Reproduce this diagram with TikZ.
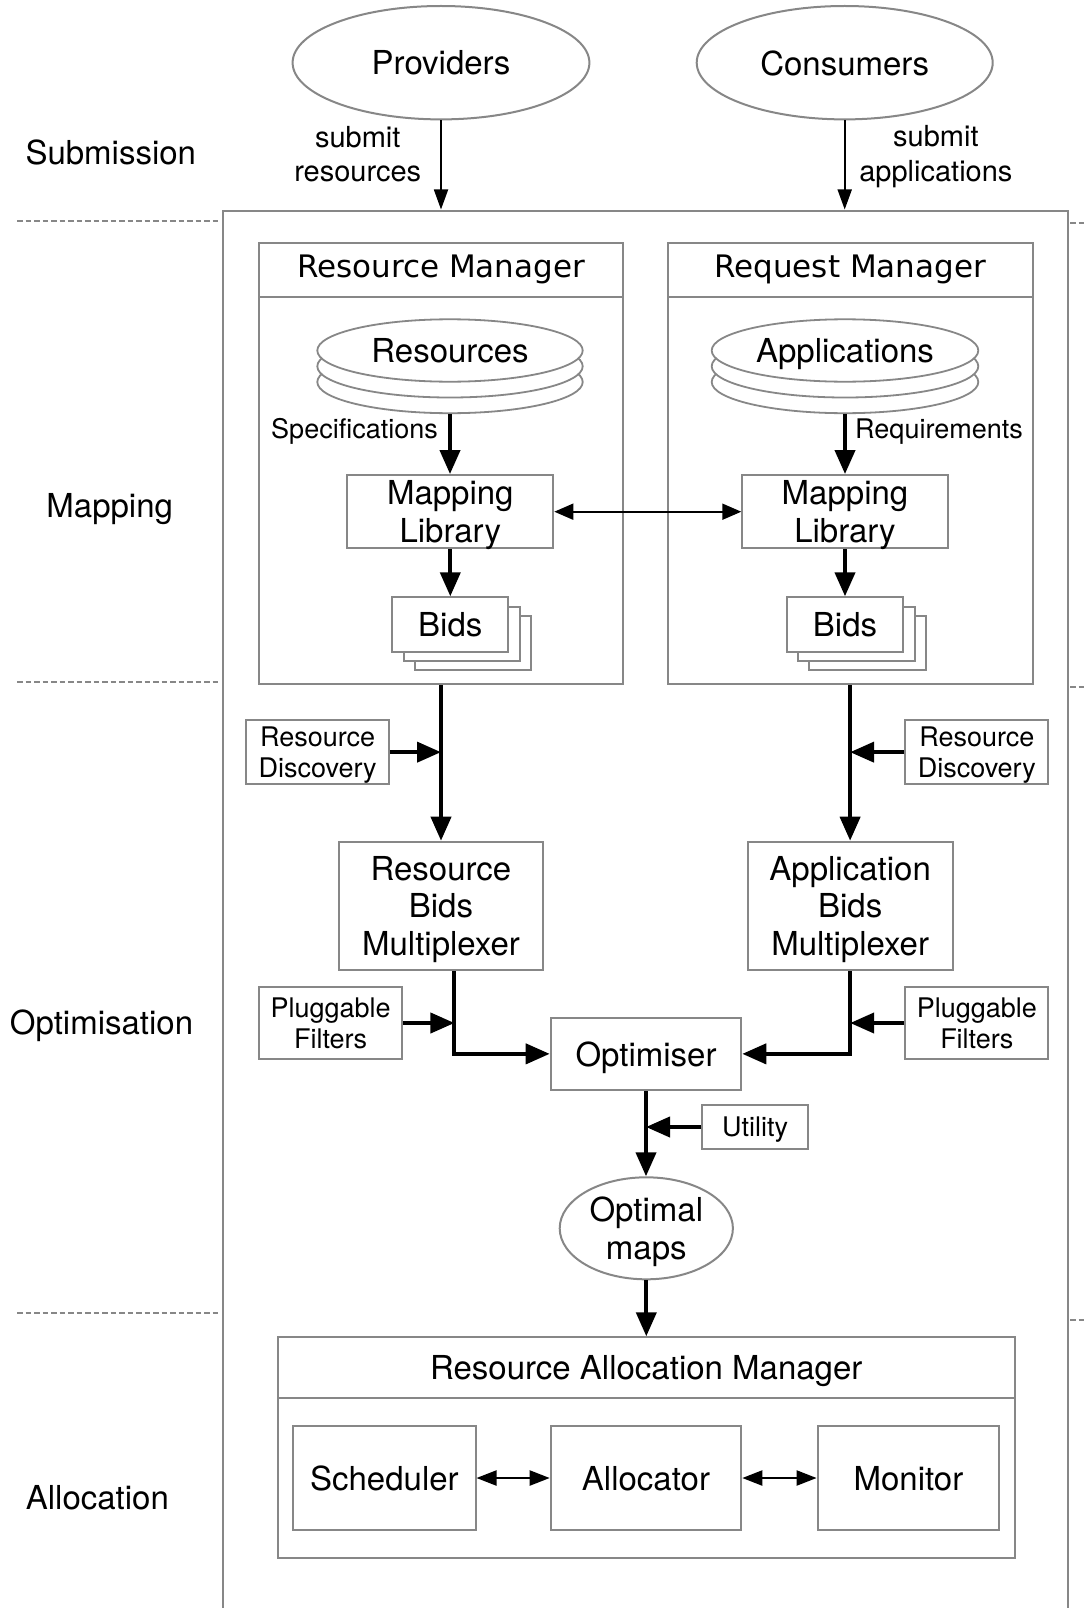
\documentclass[tikz,border=0pt]{standalone}
\usepackage{fontspec}
\setmainfont{TeX Gyre Heros}
\newfontfamily\hdrfont{DejaVu Sans}
\usetikzlibrary{arrows.meta,shapes.geometric}
\definecolor{bord}{RGB}{135,135,135}
\newcommand\mybigf{\fontsize{33}{37.7}\selectfont}
\newcommand\mysmf{\fontsize{27}{31.7}\selectfont}
\newcommand\mysubf{\fontsize{29}{34.3}\selectfont}
\newcommand\myhdrf{\hdrfont\fontsize{31}{36}\selectfont}
\begin{document}
\begin{tikzpicture}[x=1pt,y=-1pt,
 box/.style={draw=bord, line width=2pt, fill=white, inner sep=0pt, align=center, font=\mybigf, text depth=0pt},
 sbox/.style={box, font=\mysmf},
 oval/.style={ellipse, draw=bord, line width=2pt, fill=white, inner sep=0pt, align=center, font=\mybigf, text depth=0pt},
 db/.style={oval, line width=1.8pt},
 hdr/.style={box, font=\myhdrf, text depth=7.3pt},
 lbl/.style={inner sep=0pt, align=center, font=\mybigf},
 tk/.style={line width=4pt, -{Triangle[length=24pt,width=20pt]}},
 tn/.style={line width=1.8pt, -{Triangle[length=20pt,width=14pt]}},
 bi/.style={line width=1.8pt, {Triangle[length=19pt,width=16pt]}-{Triangle[length=19pt,width=16pt]}},
 bim/.style={line width=2.2pt, {Triangle[length=20pt,width=15pt]}-{Triangle[length=20pt,width=15pt]}},
 phase/.style={draw=bord, line width=2pt, dash pattern=on 5.5pt off 3pt}
]
\useasboundingbox (0,0) rectangle (1087,1608);
\clip (0,0) rectangle (1087,1608);

% phase labels
\node[lbl, anchor=base] (lsub) at (110.8,164.3) {Submission};
\node[lbl, anchor=base] (lmap) at (109.7,517.7) {Mapping};
\node[lbl, anchor=base] (lopt) at (101.5,1034.5) {Optimisation};
\node[lbl, anchor=base] (lall) at (97.4,1509.7) {Allocation};

% outer frame
\node[draw=bord, line width=2pt, inner sep=0pt, minimum width=845.5pt, minimum height=1450pt, anchor=north west] (outer) at (221.5,209.5) {};

% phase separators
\draw[phase] (17,220.5) -- (220.5,220.5);
\draw[phase] (17,681.5) -- (220.5,681.5);
\draw[phase] (17,1313) -- (220.5,1313);
\draw[phase] (1070,223) -- (1087,223);
\draw[phase] (1070,686.5) -- (1087,686.5);
\draw[phase] (1070,1319.5) -- (1087,1319.5);

% submission
\node[oval, minimum width=296.8pt, minimum height=113.4pt] (prov) at (441,62.7) {Providers};
\node[oval, minimum width=296pt, minimum height=113.4pt] (cons) at (844.7,62.7) {Consumers};
\node[lbl, font=\mysubf] (subr) at (357.7,154) {submit\\resources};
\node[lbl, font=\mysubf] (suba) at (935.9,156.5) {submit\\applications};
\draw[tn] (prov.south) -- (prov.south |- outer.north);
\draw[tn] (cons.south) -- (cons.south |- outer.north);

% managers
\node[box, minimum width=364pt, minimum height=440.7pt] (rm) at (441,463.65) {};
\node[hdr, minimum width=364pt, minimum height=53.4pt, anchor=north] (rmh) at (rm.north) {Resource Manager};
\node[box, minimum width=364.8pt, minimum height=440.7pt] (qm) at (850.1,463.65) {};
\node[hdr, minimum width=364.8pt, minimum height=53.4pt, anchor=north] (qmh) at (qm.north) {Request Manager};

% databases
\node[db, minimum width=265.4pt, minimum height=62.4pt] (res3) at (450,382) {};
\node[db, minimum width=265.4pt, minimum height=62.4pt] (res2) at (450,366.3) {};
\node[db, minimum width=265.4pt, minimum height=62.4pt] (res1) at (450,350.5) {Resources};
\node[db, minimum width=266.6pt, minimum height=62.4pt] (app3) at (845,382) {};
\node[db, minimum width=266.6pt, minimum height=62.4pt] (app2) at (845,366.3) {};
\node[db, minimum width=266.6pt, minimum height=62.4pt] (app1) at (845,350.5) {Applications};

\node[lbl, font=\mysmf, anchor=base east] (spec) at (438,438.3) {Specifications};
\node[lbl, font=\mysmf, anchor=base west] (reqs) at (855,438) {Requirements};

% mapping libraries
\node[box, minimum width=206pt, minimum height=73.3pt] (mlL) at (450.3,511.7) {Mapping\\Library};
\node[box, minimum width=205.4pt, minimum height=73.3pt] (mlR) at (845,511.7) {Mapping\\Library};

% bids
\node[box, minimum width=116pt, minimum height=54.4pt] (bL3) at (472.9,643.1) {};
\node[box, minimum width=116pt, minimum height=54.4pt] (bL2) at (461.6,633.8) {};
\node[box, minimum width=116pt, minimum height=54.4pt] (bL1) at (450.3,624.5) {Bids};
\node[box, minimum width=116.6pt, minimum height=54.4pt] (bR3) at (867.6,643.1) {};
\node[box, minimum width=116.6pt, minimum height=54.4pt] (bR2) at (856.3,633.8) {};
\node[box, minimum width=116.6pt, minimum height=54.4pt] (bR1) at (845,624.5) {Bids};

\draw[tk] (res3.south) -- (res3.south |- mlL.north);
\draw[tk] (app3.south) -- (app3.south |- mlR.north);
\draw[tk] (mlL.south) -- (mlL.south |- bL1.north);
\draw[tk] (mlR.south) -- (mlR.south |- bR1.north);
\draw[bi] (mlL.east) -- (mlR.west);

% optimisation
\node[sbox, minimum width=142.5pt, minimum height=64.3pt] (rdL) at (317.65,752.15) {Resource\\Discovery};
\node[sbox, minimum width=143.1pt, minimum height=64.3pt] (rdR) at (976.85,752.15) {Resource\\Discovery};
\node[box, minimum width=204.7pt, minimum height=128.3pt] (rbm) at (440.95,905.85) {Resource\\Bids\\Multiplexer};
\node[box, minimum width=205.3pt, minimum height=128.3pt] (abm) at (850.15,905.85) {Application\\Bids\\Multiplexer};
\node[sbox, minimum width=142.5pt, minimum height=72.6pt] (pfL) at (330.65,1023) {Pluggable\\Filters};
\node[sbox, minimum width=143.1pt, minimum height=72.6pt] (pfR) at (976.85,1023) {Pluggable\\Filters};
\node[box, minimum width=190.6pt, minimum height=72.3pt] (opt) at (646,1053.85) {Optimiser};
\node[sbox, minimum width=105.7pt, minimum height=44pt] (util) at (755.15,1127) {Utility};
\node[oval, minimum width=173.2pt, minimum height=102pt] (maps) at (646.3,1228.3) {Optimal\\maps};

\coordinate (rbmout) at ([xshift=13.5pt]rbm.south);
\draw[tk] (rm.south) -- (rm.south |- rbm.north);
\draw[tk] (qm.south) -- (qm.south |- abm.north);
\draw[tk] (rdL.east) -- (rdL.east -| rm.south);
\draw[tk] (rdR.west) -- (rdR.west -| qm.south);
\draw[tk] (rbmout) |- (opt.west);
\draw[tk] (abm.south) |- (opt.east);
\draw[tk] (pfL.east) -- (pfL.east -| rbmout);
\draw[tk] (pfR.west) -- (pfR.west -| abm.south);
\draw[tk] (opt.south) -- (opt.south |- maps.north);
\draw[tk] (util.west) -- (util.west -| opt.south);

% allocation
\node[box, minimum width=736.5pt, minimum height=220.7pt] (ram) at (646.25,1447.65) {};
\node[box, minimum width=736.5pt, minimum height=60.4pt, anchor=north] (ramh) at (ram.north) {Resource Allocation Manager};
\node[box, minimum width=182.2pt, minimum height=104pt] (sch) at (384.4,1478) {Scheduler};
\node[box, minimum width=190.6pt, minimum height=104pt] (alc) at (646,1478) {Allocator};
\node[box, minimum width=181.6pt, minimum height=104pt] (mon) at (908.4,1478) {Monitor};
\draw[tk] (maps.south) -- (maps.south |- ramh.north);
\draw[bim] (sch.east) -- (alc.west);
\draw[bim] (alc.east) -- (mon.west);
\end{tikzpicture}
\end{document}
